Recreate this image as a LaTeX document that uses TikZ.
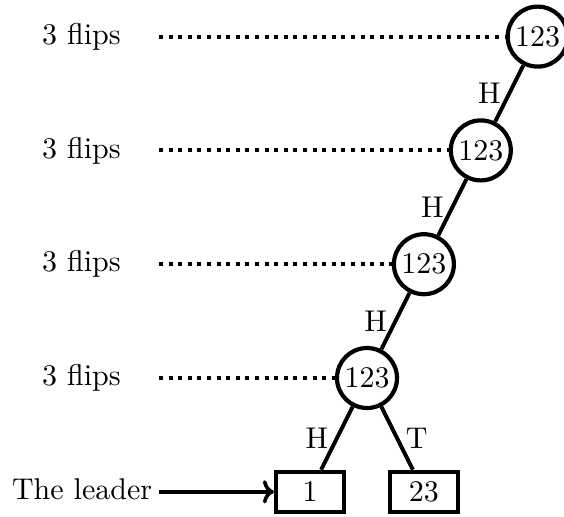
\documentclass[tikz,border=0pt]{standalone}
\usetikzlibrary{arrows.meta}
% labels are set in the 10pt design size, enlarged by half
\newcommand{\bigtxt}[1]{\scalebox{1.5}{#1}}
\begin{document}
\begin{tikzpicture}[x=0.5pt,y=-0.5pt,
  font=\fontsize{10}{12}\selectfont,
  coin/.style={circle,draw,line width=2.1pt,minimum size=30pt,inner sep=0pt},
  leaf/.style={rectangle,draw,line width=2.1pt,minimum width=34pt,minimum height=20pt,inner sep=0pt},
  branch/.style={line width=2pt},
  flips/.style={anchor=east,inner sep=0pt},
  guide/.style={line width=2pt,dash pattern=on 2pt off 2.8pt,shorten <=19pt},
  pointer/.style={line width=1.8pt,->,shorten <=3pt}
]
\useasboundingbox (0,0) rectangle (564,516);

% chain of coin-flip rounds
\node[coin] (c1) at (537.7,36.6) {\bigtxt{123}};
\node[coin] (c2) at (480.8,150.4) {\bigtxt{123}};
\node[coin] (c3) at (423.9,264.2) {\bigtxt{123}};
\node[coin] (c4) at (367.0,378.0) {\bigtxt{123}};

% outcomes of the last round
\node[leaf] (b1) at (310.1,491.8) {\bigtxt{1}};
\node[leaf] (b2) at (423.9,491.8) {\bigtxt{23}};

\draw[branch] (c1) -- node[left] {\bigtxt{H}} (c2);
\draw[branch] (c2) -- node[left] {\bigtxt{H}} (c3);
\draw[branch] (c3) -- node[left] {\bigtxt{H}} (c4);
\draw[branch] (c4) -- node[left] {\bigtxt{H}} (b1);
\draw[branch] (c4) -- node[right] {\bigtxt{T}} (b2);

% round labels
\node[flips] (f1) at (121,36.6) {\bigtxt{3 flips}};
\node[flips] (f2) at (121,150.4) {\bigtxt{3 flips}};
\node[flips] (f3) at (121,264.2) {\bigtxt{3 flips}};
\node[flips] (f4) at (121,378.0) {\bigtxt{3 flips}};

\draw[guide] (f1.east) -- (c1);
\draw[guide] (f2.east) -- (c2);
\draw[guide] (f3.east) -- (c3);
\draw[guide] (f4.east) -- (c4);

\node[anchor=base east,inner sep=0pt] (lead) at (152.5,499) {\bigtxt{The leader}};
\draw[pointer] (lead.east |- b1) -- (b1.west);
\end{tikzpicture}
\end{document}
